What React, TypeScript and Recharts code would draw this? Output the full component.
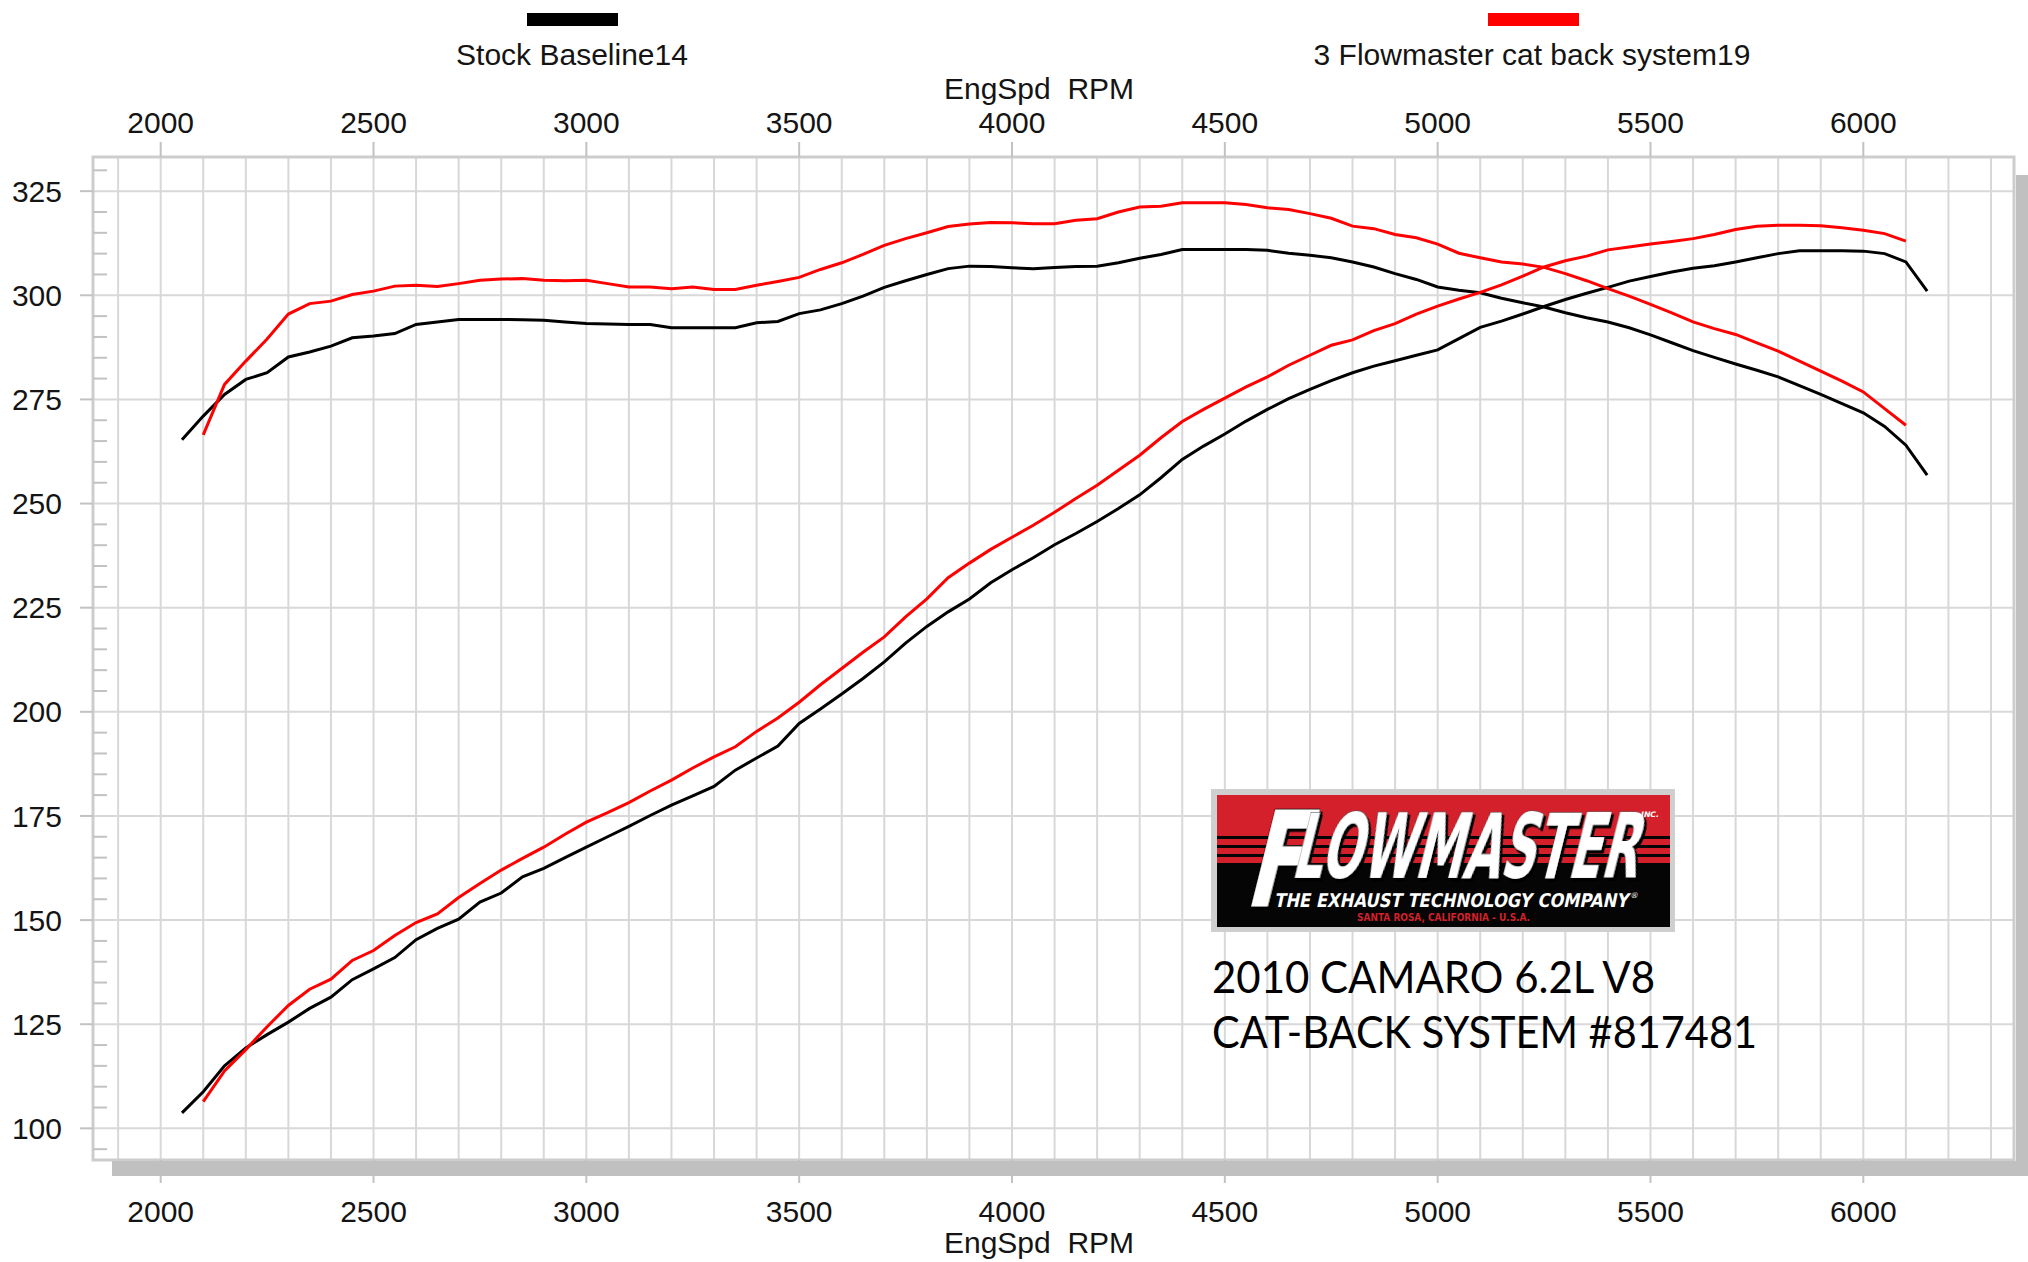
import React from 'react';
import { LineChart, Line, XAxis, YAxis, CartesianGrid, ReferenceArea, ReferenceLine } from 'recharts';

const W = 2028;
const H = 1262;

// ---- data ----
const stockRpm = [
  2050, 2100, 2150, 2200, 2250, 2300, 2350, 2400, 2450, 2500,
  2550, 2600, 2650, 2700, 2750, 2800, 2850, 2900, 2950, 3000,
  3050, 3100, 3150, 3200, 3250, 3300, 3350, 3400, 3450, 3500,
  3550, 3600, 3650, 3700, 3750, 3800, 3850, 3900, 3950, 4000,
  4050, 4100, 4150, 4200, 4250, 4300, 4350, 4400, 4450, 4500,
  4550, 4600, 4650, 4700, 4750, 4800, 4850, 4900, 4950, 5000,
  5050, 5100, 5150, 5200, 5250, 5300, 5350, 5400, 5450, 5500,
  5550, 5600, 5650, 5700, 5750, 5800, 5850, 5900, 5950, 6000,
  6050, 6100, 6150,
];
const stockTorque = [
  265.3, 271.0, 276.2, 279.8, 281.4, 285.2, 286.4, 287.8, 289.8, 290.2,
  290.8, 293.0, 293.6, 294.2, 294.2, 294.2, 294.1, 294.0, 293.6, 293.2,
  293.1, 293.0, 293.0, 292.2, 292.2, 292.2, 292.2, 293.4, 293.7, 295.6,
  296.5, 298.0, 299.8, 301.9, 303.5, 305.0, 306.4, 307.0, 306.9, 306.6,
  306.4, 306.7, 306.9, 307.0, 307.8, 308.9, 309.8, 311.0, 311.0, 311.0,
  311.0, 310.8, 310.1, 309.6, 309.0, 308.0, 306.8, 305.2, 303.8, 302.0,
  301.2, 300.6, 299.3, 298.2, 297.2, 295.8, 294.6, 293.6, 292.2, 290.5,
  288.6, 286.7, 285.1, 283.5, 282.0, 280.4, 278.3, 276.2, 274.0, 271.8,
  268.5, 264.0, 256.8,
];
const stockHp = [
  103.7, 108.8, 115.0, 119.3, 122.5, 125.5, 128.8, 131.5, 135.7, 138.3,
  141.0, 145.3, 148.0, 150.2, 154.3, 156.5, 160.4, 162.4, 165.0, 167.5,
  170.0, 172.5, 175.1, 177.6, 179.8, 182.1, 186.0, 188.9, 191.8, 197.2,
  200.7, 204.3, 208.0, 212.0, 216.5, 220.5, 224.0, 227.1, 231.0, 234.1,
  237.0, 240.1, 242.8, 245.7, 248.8, 252.1, 256.2, 260.6, 263.8, 266.7,
  269.8, 272.6, 275.2, 277.4, 279.5, 281.4, 283.0, 284.3, 285.6, 286.9,
  289.6, 292.3, 293.8, 295.5, 297.3, 299.0, 300.5, 301.9, 303.4, 304.5,
  305.6, 306.5, 307.1, 308.0, 309.0, 310.0, 310.7, 310.7, 310.7, 310.6,
  310.0, 308.0, 301.0,
];

const flowRpm = [
  2100, 2150, 2200, 2250, 2300, 2350, 2400, 2450, 2500, 2550,
  2600, 2650, 2700, 2750, 2800, 2850, 2900, 2950, 3000, 3050,
  3100, 3150, 3200, 3250, 3300, 3350, 3400, 3450, 3500, 3550,
  3600, 3650, 3700, 3750, 3800, 3850, 3900, 3950, 4000, 4050,
  4100, 4150, 4200, 4250, 4300, 4350, 4400, 4450, 4500, 4550,
  4600, 4650, 4700, 4750, 4800, 4850, 4900, 4950, 5000, 5050,
  5100, 5150, 5200, 5250, 5300, 5350, 5400, 5450, 5500, 5550,
  5600, 5650, 5700, 5750, 5800, 5850, 5900, 5950, 6000, 6050,
  6100,
];
const flowTorque = [
  266.5, 278.6, 284.2, 289.5, 295.5, 298.0, 298.6, 300.2, 301.0, 302.2,
  302.4, 302.1, 302.8, 303.6, 303.9, 304.0, 303.6, 303.5, 303.6, 302.8,
  302.0, 302.0, 301.6, 302.0, 301.4, 301.4, 302.4, 303.3, 304.3, 306.2,
  307.8, 309.8, 312.0, 313.6, 315.0, 316.5, 317.1, 317.5, 317.4, 317.2,
  317.2, 318.0, 318.4, 320.0, 321.2, 321.4, 322.2, 322.2, 322.2, 321.8,
  321.0, 320.6, 319.6, 318.5, 316.6, 316.0, 314.6, 313.8, 312.3, 310.1,
  309.0, 308.0, 307.5, 306.7, 305.2, 303.5, 301.6, 299.8, 297.8, 295.8,
  293.6, 292.0, 290.6, 288.6, 286.6, 284.2, 281.8, 279.4, 276.8, 272.8,
  268.8,
];
const flowHp = [
  106.4, 113.8, 118.9, 124.4, 129.5, 133.4, 135.8, 140.3, 142.7, 146.3,
  149.4, 151.5, 155.4, 158.8, 162.0, 164.8, 167.5, 170.6, 173.5, 175.8,
  178.2, 181.0, 183.6, 186.5, 189.2, 191.6, 195.3, 198.5, 202.3, 206.5,
  210.4, 214.3, 218.0, 222.8, 227.1, 232.2, 235.7, 239.0, 241.9, 244.8,
  247.9, 251.2, 254.4, 258.0, 261.6, 265.8, 269.7, 272.6, 275.3, 278.0,
  280.4, 283.2, 285.6, 288.0, 289.3, 291.5, 293.2, 295.5, 297.4, 299.1,
  300.7, 302.5, 304.6, 306.8, 308.3, 309.4, 310.9, 311.6, 312.3, 312.9,
  313.6, 314.6, 315.8, 316.6, 316.8, 316.8, 316.7, 316.2, 315.6, 314.8,
  313.0,
];

const rpmTicks = [2000, 2500, 3000, 3500, 4000, 4500, 5000, 5500, 6000];
const valueTicks = [100, 125, 150, 175, 200, 225, 250, 275, 300, 325];
const gridRpm = [
  1900, 2000, 2100, 2200, 2300, 2400, 2500, 2600, 2700, 2800, 2900, 3000, 3100,
  3200, 3300, 3400, 3500, 3600, 3700, 3800, 3900, 4000, 4100, 4200, 4300, 4400,
  4500, 4600, 4700, 4800, 4900, 5000, 5100, 5200, 5300, 5400, 5500, 5600, 5700,
  5800, 5900, 6000, 6100, 6200, 6300,
];
const minorValues = [
  95, 105, 110, 115, 120, 130, 135, 140, 145, 155, 160, 165, 170, 180, 185, 190, 195,
  205, 210, 215, 220, 230, 235, 240, 245, 255, 260, 265, 270, 280, 285, 290, 295,
  305, 310, 315, 320, 330,
];
const seriesNames = ['Stock Baseline14', '3 Flowmaster cat back system19'];
const seriesColors = ['#000000', '#ff0000'];
const axisTitle = 'EngSpd  RPM';
const noteLines = ['2010 CAMARO 6.2L V8', 'CAT-BACK SYSTEM #817481'];

const X_DOMAIN: [number, number] = [1841, 6354];
const Y_DOMAIN: [number, number] = [92.4, 333.2];

const TICK_FONT = "'Liberation Sans', Arial, sans-serif";
const tickStyle = { fill: '#141414', fontSize: 30, fontFamily: TICK_FONT };
const tickLineStyle = { stroke: '#c2c2c2', strokeWidth: 2 };

export default function App() {
  const stockRows = stockRpm.map((rpm, i) => ({ rpm, torque: stockTorque[i], hp: stockHp[i] }));
  const flowRows = flowRpm.map((rpm, i) => ({ rpm, torque: flowTorque[i], hp: flowHp[i] }));

  const vGen = (props: any) => {
    const s = props && props.xAxis && props.xAxis.scale;
    if (typeof s === 'function') return gridRpm.map((v) => s(v));
    const o = props.offset;
    return gridRpm.map((v) => o.left + ((v - X_DOMAIN[0]) / (X_DOMAIN[1] - X_DOMAIN[0])) * o.width);
  };
  const hGen = (props: any) => {
    const s = props && props.yAxis && props.yAxis.scale;
    if (typeof s === 'function') return valueTicks.map((v) => s(v));
    const o = props.offset;
    return valueTicks.map((v) => o.top + o.height - ((v - Y_DOMAIN[0]) / (Y_DOMAIN[1] - Y_DOMAIN[0])) * o.height);
  };

  const minorLen = 33; // rpm units, short mark inside left edge

  return (
    <div style={{ position: 'absolute', left: 0, top: 0, width: W, height: H, background: '#ffffff', overflow: 'hidden' }}>
      <LineChart width={W} height={H} margin={{ top: 97, right: 14, bottom: 42, left: 13 }}>
        <CartesianGrid
          xAxisId="b"
          stroke="#d8d8d8"
          strokeWidth={2}
          verticalCoordinatesGenerator={vGen}
          horizontalCoordinatesGenerator={hGen}
        />
        <XAxis
          xAxisId="b"
          dataKey="rpm"
          type="number"
          orientation="bottom"
          domain={X_DOMAIN}
          allowDataOverflow
          ticks={rpmTicks}
          interval={0}
          height={60}
          tickSize={23}
          tickMargin={18}
          axisLine={false}
          tickLine={tickLineStyle}
          tick={tickStyle}
        />
        <XAxis
          xAxisId="t"
          dataKey="rpm"
          type="number"
          orientation="top"
          domain={X_DOMAIN}
          allowDataOverflow
          ticks={rpmTicks}
          interval={0}
          height={60}
          tickSize={15}
          tickMargin={9}
          axisLine={false}
          tickLine={tickLineStyle}
          tick={tickStyle}
        />
        <YAxis
          type="number"
          domain={Y_DOMAIN}
          allowDataOverflow
          ticks={valueTicks}
          interval={0}
          width={80}
          tickSize={13}
          tickMargin={18}
          axisLine={false}
          tickLine={tickLineStyle}
          tick={tickStyle}
        />
        <ReferenceArea
          xAxisId="b"
          x1={X_DOMAIN[0]}
          x2={X_DOMAIN[1]}
          y1={Y_DOMAIN[0]}
          y2={Y_DOMAIN[1]}
          fill="none"
          fillOpacity={0}
          stroke="#cdcdcd"
          strokeWidth={3}
          ifOverflow="visible"
        />
        {minorValues.map((v) => (
          <ReferenceLine
            key={'m' + v}
            xAxisId="b"
            segment={[{ x: X_DOMAIN[0], y: v }, { x: X_DOMAIN[0] + minorLen, y: v }]}
            stroke="#c2c2c2"
            strokeWidth={2}
            ifOverflow="visible"
          />
        ))}
        <Line xAxisId="b" data={stockRows} dataKey="torque" type="linear" stroke={seriesColors[0]} strokeWidth={3} dot={false} activeDot={false} isAnimationActive={false} />
        <Line xAxisId="b" data={stockRows} dataKey="hp" type="linear" stroke={seriesColors[0]} strokeWidth={3} dot={false} activeDot={false} isAnimationActive={false} />
        <Line xAxisId="b" data={flowRows} dataKey="torque" type="linear" stroke={seriesColors[1]} strokeWidth={3} dot={false} activeDot={false} isAnimationActive={false} />
        <Line xAxisId="b" data={flowRows} dataKey="hp" type="linear" stroke={seriesColors[1]} strokeWidth={3} dot={false} activeDot={false} isAnimationActive={false} />
      </LineChart>

      <svg width={W} height={H} style={{ position: 'absolute', left: 0, top: 0, pointerEvents: 'none' }}>
        <defs>
          <filter id="logoShadow" x="-10%" y="-10%" width="130%" height="130%">
            <feDropShadow dx={3} dy={3} stdDeviation={0.6} floodColor="#000" floodOpacity={1} />
          </filter>
        </defs>
        {/* drop shadow of the plot frame */}
        <rect x={112} y={1161} width={W - 112} height={15} fill="#c0c0c0" />
        <rect x={2016} y={175} width={12} height={1001} fill="#c0c0c0" />

        {/* legend */}
        <rect x={527} y={13} width={91} height={13} fill={seriesColors[0]} />
        <text x={572} y={65} textAnchor="middle" fontFamily={TICK_FONT} fontSize={30} fill="#141414">{seriesNames[0]}</text>
        <rect x={1488} y={13} width={91} height={13} fill={seriesColors[1]} />
        <text x={1532} y={65} textAnchor="middle" fontFamily={TICK_FONT} fontSize={30} fill="#141414">{seriesNames[1]}</text>

        {/* axis titles */}
        <text x={1039} y={99} textAnchor="middle" fontFamily={TICK_FONT} fontSize={30} fill="#141414" style={{ whiteSpace: 'pre' }}>{axisTitle}</text>
        <text x={1039} y={1253} textAnchor="middle" fontFamily={TICK_FONT} fontSize={30} fill="#141414" style={{ whiteSpace: 'pre' }}>{axisTitle}</text>

        {/* logo */}
        <rect x={1211} y={789} width={464} height={143} fill="#cfcfcf" />
        <rect x={1217} y={795} width={453} height={132} fill="#050505" />
        <rect x={1217} y={795} width={453} height={68} fill="#d3202b" />
        <rect x={1217} y={836} width={453} height={3} fill="#050505" />
        <rect x={1217} y={845} width={453} height={3} fill="#050505" />
        <rect x={1217} y={854} width={453} height={3} fill="#050505" />
        <g transform="translate(1243,907) skewX(-14)" filter="url(#logoShadow)">
          <text x={0} y={0} fontFamily="'DejaVu Sans', sans-serif" fontWeight="bold" fill="#fff" stroke="#000" strokeWidth={1.2} paintOrder="stroke">
            <tspan fontSize={133} textLength={60} lengthAdjust="spacingAndGlyphs">F</tspan>
            <tspan x={40} dy={-29} fontSize={90} textLength={346} lengthAdjust="spacingAndGlyphs">LOWMASTER</tspan>
          </text>
        </g>
        <text x={1641} y={817} fontFamily="'DejaVu Sans', sans-serif" fontWeight="bold" fontStyle="italic" fontSize={7.5} fill="#fff" textLength={18} lengthAdjust="spacingAndGlyphs">INC.</text>
        <g transform="translate(1274,907) skewX(-12)">
          <text x={0} y={0} fontFamily="'DejaVu Sans', sans-serif" fontWeight="bold" fontSize={19} fill="#fff">
            <tspan textLength={354} lengthAdjust="spacingAndGlyphs">THE EXHAUST TECHNOLOGY COMPANY</tspan>
            <tspan dy={-9} fontSize={8} fontWeight="normal">®</tspan>
          </text>
        </g>
        <text x={1357} y={921} fontFamily="'DejaVu Sans', sans-serif" fontWeight="bold" fontSize={10.5} fill="#d3202b" textLength={173} lengthAdjust="spacingAndGlyphs">SANTA ROSA, CALIFORNIA - U.S.A.</text>

        {/* notes */}
        <text x={1212} y={993} fontFamily="Lato, 'Liberation Sans', sans-serif" fontSize={45} fill="#000" textLength={443} lengthAdjust="spacingAndGlyphs">{noteLines[0]}</text>
        <text x={1212} y={1048} fontFamily="Lato, 'Liberation Sans', sans-serif" fontSize={45} fill="#000" textLength={545} lengthAdjust="spacingAndGlyphs">{noteLines[1]}</text>
      </svg>
    </div>
  );
}
